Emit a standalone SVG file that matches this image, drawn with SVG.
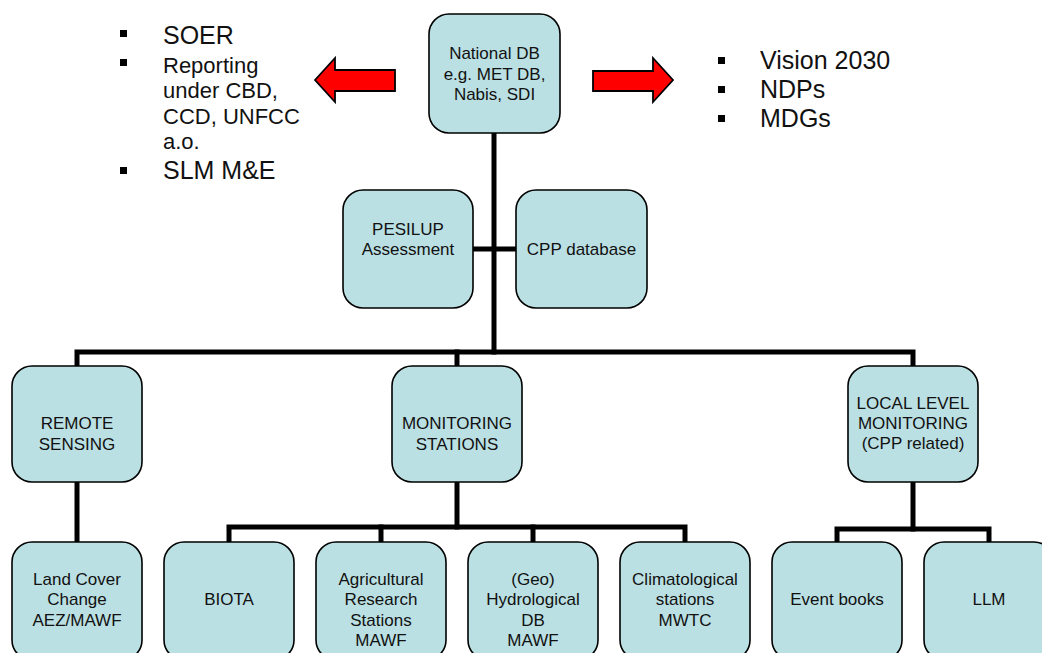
<svg xmlns="http://www.w3.org/2000/svg" width="1042" height="653" viewBox="0 0 1042 653">
  <style>
    .box { fill: #BBE0E3; stroke: #000; stroke-width: 1.6; }
    .lbl { font-family: "Liberation Sans", Arial, sans-serif; font-size: 17px; fill: #111; text-anchor: middle; }
    .big { font-family: "Liberation Sans", Arial, sans-serif; font-size: 25px; fill: #111; }
    .mid { font-family: "Liberation Sans", Arial, sans-serif; font-size: 22px; fill: #111; }
    .link { fill: none; stroke: #000; stroke-width: 5; stroke-linecap: square; stroke-linejoin: miter; }
    .arrow { fill: #FF0000; stroke: #000; stroke-width: 1.8; stroke-linejoin: miter; }
  </style>

  <!-- connectors -->
  <g id="connectors">
    <path class="link" d="M494 133 V352"/>
    <path class="link" d="M473 249 H516"/>
    <path class="link" d="M77 366 V352 H913 V366"/>
    <path class="link" d="M457 352 V366"/>
    <path class="link" d="M77 482 V542"/>
    <path class="link" d="M457 482 V527"/>
    <path class="link" d="M229 542 V527 H685 V542"/>
    <path class="link" d="M381 527 V542"/>
    <path class="link" d="M533 527 V542"/>
    <path class="link" d="M913 482 V529"/>
    <path class="link" d="M837 542 V529 H989 V542"/>
  </g>

  <!-- block arrows -->
  <g id="arrow-left">
    <polygon class="arrow" points="315,80 335,58 335,70 395,70 395,91 335,91 335,102"/>
  </g>
  <g id="arrow-right">
    <polygon class="arrow" points="673,80 653,58 653,71 593,71 593,91 653,91 653,102"/>
  </g>

  <!-- bullet lists -->
  <g id="list-left">
    <rect x="120" y="30" width="7" height="7" fill="#000"/>
    <text class="big" x="163" y="44">SOER</text>
    <rect x="120" y="59" width="7" height="7" fill="#000"/>
    <text class="mid" x="163" y="73">Reporting</text>
    <text class="mid" x="163" y="98">under CBD,</text>
    <text class="mid" x="163" y="124">CCD, UNFCC</text>
    <text class="mid" x="163" y="149">a.o.</text>
    <rect x="120" y="167" width="7" height="7" fill="#000"/>
    <text class="big" x="163" y="179">SLM M&amp;E</text>
  </g>
  <g id="list-right">
    <rect x="718" y="57" width="7" height="7" fill="#000"/>
    <text class="big" x="760" y="69">Vision 2030</text>
    <rect x="718" y="86" width="7" height="7" fill="#000"/>
    <text class="big" x="760" y="98">NDPs</text>
    <rect x="718" y="115" width="7" height="7" fill="#000"/>
    <text class="big" x="760" y="127">MDGs</text>
  </g>

  <!-- top -->
  <g id="national-db">
    <rect class="box" x="429" y="14" width="131" height="119" rx="20"/>
    <text class="lbl" x="494.5" y="59">National DB</text>
    <text class="lbl" x="494.5" y="80">e.g. MET DB,</text>
    <text class="lbl" x="494.5" y="100">Nabis, SDI</text>
  </g>

  <!-- assistants -->
  <g id="pesilup">
    <rect class="box" x="343" y="190" width="130" height="118" rx="20"/>
    <text class="lbl" x="408" y="235">PESILUP</text>
    <text class="lbl" x="408" y="255">Assessment</text>
  </g>
  <g id="cpp-database">
    <rect class="box" x="516" y="190" width="131" height="118" rx="20"/>
    <text class="lbl" x="581.5" y="255">CPP database</text>
  </g>

  <!-- second level -->
  <g id="remote-sensing">
    <rect class="box" x="12" y="366" width="130" height="116" rx="20"/>
    <text class="lbl" x="77" y="429">REMOTE</text>
    <text class="lbl" x="77" y="450">SENSING</text>
  </g>
  <g id="monitoring-stations">
    <rect class="box" x="392" y="366" width="130" height="116" rx="20"/>
    <text class="lbl" x="457" y="429">MONITORING</text>
    <text class="lbl" x="457" y="450">STATIONS</text>
  </g>
  <g id="local-level">
    <rect class="box" x="848" y="366" width="130" height="116" rx="20"/>
    <text class="lbl" x="913" y="409">LOCAL LEVEL</text>
    <text class="lbl" x="913" y="429">MONITORING</text>
    <text class="lbl" x="913" y="449">(CPP related)</text>
  </g>

  <!-- third level -->
  <g id="land-cover">
    <rect class="box" x="12" y="542" width="130" height="118" rx="20"/>
    <text class="lbl" x="77" y="585">Land Cover</text>
    <text class="lbl" x="77" y="605">Change</text>
    <text class="lbl" x="77" y="626">AEZ/MAWF</text>
  </g>
  <g id="biota">
    <rect class="box" x="164" y="542" width="130" height="118" rx="20"/>
    <text class="lbl" x="229" y="605">BIOTA</text>
  </g>
  <g id="agricultural">
    <rect class="box" x="316" y="542" width="130" height="118" rx="20"/>
    <text class="lbl" x="381" y="585">Agricultural</text>
    <text class="lbl" x="381" y="605">Research</text>
    <text class="lbl" x="381" y="626">Stations</text>
    <text class="lbl" x="381" y="646">MAWF</text>
  </g>
  <g id="hydrological">
    <rect class="box" x="468" y="542" width="130" height="118" rx="20"/>
    <text class="lbl" x="533" y="585">(Geo)</text>
    <text class="lbl" x="533" y="605">Hydrological</text>
    <text class="lbl" x="533" y="626">DB</text>
    <text class="lbl" x="533" y="646">MAWF</text>
  </g>
  <g id="climatological">
    <rect class="box" x="620" y="542" width="130" height="118" rx="20"/>
    <text class="lbl" x="685" y="585">Climatological</text>
    <text class="lbl" x="685" y="605">stations</text>
    <text class="lbl" x="685" y="626">MWTC</text>
  </g>
  <g id="event-books">
    <rect class="box" x="772" y="542" width="130" height="118" rx="20"/>
    <text class="lbl" x="837" y="605">Event books</text>
  </g>
  <g id="llm">
    <rect class="box" x="924" y="542" width="130" height="118" rx="20"/>
    <text class="lbl" x="989" y="605">LLM</text>
  </g>
</svg>
